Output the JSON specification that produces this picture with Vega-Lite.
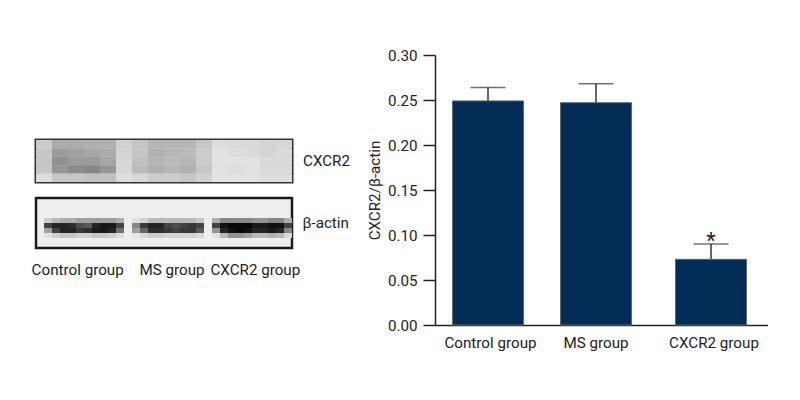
{"$schema":"https://vega.github.io/schema/vega-lite/v6.json","background":"white","padding":{"left":31,"top":48,"right":0,"bottom":0},"spacing":15,
"config":{"font":"Roboto","view":{"stroke":null}},
"datasets":{
"groups":[{"group":"Control group","ratio":0.249,"upper":0.264},{"group":"MS group","ratio":0.247,"upper":0.268},{"group":"CXCR2 group","ratio":0.073,"upper":0.09,"note":"*"}],
"cxcr2":[
{"c":0,"r":0,"d":0.18},{"c":0,"r":1,"d":0.2},{"c":0,"r":2,"d":0.2},{"c":0,"r":3,"d":0.2},{"c":0,"r":4,"d":0.12},
{"c":1,"r":0,"d":0.3},{"c":1,"r":1,"d":0.36},{"c":1,"r":2,"d":0.4},{"c":1,"r":3,"d":0.38},{"c":1,"r":4,"d":0.2},
{"c":2,"r":0,"d":0.3},{"c":2,"r":1,"d":0.34},{"c":2,"r":2,"d":0.36},{"c":2,"r":3,"d":0.42},{"c":2,"r":4,"d":0.2},
{"c":3,"r":0,"d":0.28},{"c":3,"r":1,"d":0.32},{"c":3,"r":2,"d":0.36},{"c":3,"r":3,"d":0.44},{"c":3,"r":4,"d":0.22},
{"c":4,"r":0,"d":0.28},{"c":4,"r":1,"d":0.3},{"c":4,"r":2,"d":0.32},{"c":4,"r":3,"d":0.38},{"c":4,"r":4,"d":0.22},
{"c":5,"r":0,"d":0.16},{"c":5,"r":1,"d":0.15},{"c":5,"r":2,"d":0.14},{"c":5,"r":3,"d":0.14},{"c":5,"r":4,"d":0.12},
{"c":6,"r":0,"d":0.2},{"c":6,"r":1,"d":0.2},{"c":6,"r":2,"d":0.22},{"c":6,"r":3,"d":0.24},{"c":6,"r":4,"d":0.14},
{"c":7,"r":0,"d":0.26},{"c":7,"r":1,"d":0.28},{"c":7,"r":2,"d":0.26},{"c":7,"r":3,"d":0.28},{"c":7,"r":4,"d":0.18},
{"c":8,"r":0,"d":0.26},{"c":8,"r":1,"d":0.26},{"c":8,"r":2,"d":0.24},{"c":8,"r":3,"d":0.26},{"c":8,"r":4,"d":0.18},
{"c":9,"r":0,"d":0.26},{"c":9,"r":1,"d":0.24},{"c":9,"r":2,"d":0.26},{"c":9,"r":3,"d":0.28},{"c":9,"r":4,"d":0.2},
{"c":10,"r":0,"d":0.2},{"c":10,"r":1,"d":0.18},{"c":10,"r":2,"d":0.18},{"c":10,"r":3,"d":0.2},{"c":10,"r":4,"d":0.16},
{"c":11,"r":0,"d":0.12},{"c":11,"r":1,"d":0.1},{"c":11,"r":2,"d":0.1},{"c":11,"r":3,"d":0.1},{"c":11,"r":4,"d":0.1},
{"c":12,"r":0,"d":0.13},{"c":12,"r":1,"d":0.12},{"c":12,"r":2,"d":0.1},{"c":12,"r":3,"d":0.12},{"c":12,"r":4,"d":0.1},
{"c":13,"r":0,"d":0.13},{"c":13,"r":1,"d":0.13},{"c":13,"r":2,"d":0.1},{"c":13,"r":3,"d":0.1},{"c":13,"r":4,"d":0.1},
{"c":14,"r":0,"d":0.15},{"c":14,"r":1,"d":0.15},{"c":14,"r":2,"d":0.13},{"c":14,"r":3,"d":0.13},{"c":14,"r":4,"d":0.12},
{"c":15,"r":0,"d":0.14},{"c":15,"r":1,"d":0.13},{"c":15,"r":2,"d":0.13},{"c":15,"r":3,"d":0.13},{"c":15,"r":4,"d":0.12}],
"actin":[
{"c":1,"r":4,"d":0.12},{"c":1,"r":5,"d":0.7},{"c":1,"r":6,"d":0.3},{"c":1,"r":7,"d":0.05},
{"c":2,"r":4,"d":0.2},{"c":2,"r":5,"d":0.85},{"c":2,"r":6,"d":0.7},{"c":2,"r":7,"d":0.12},
{"c":3,"r":4,"d":0.25},{"c":3,"r":5,"d":0.85},{"c":3,"r":6,"d":0.85},{"c":3,"r":7,"d":0.15},
{"c":4,"r":4,"d":0.25},{"c":4,"r":5,"d":0.8},{"c":4,"r":6,"d":0.85},{"c":4,"r":7,"d":0.15},
{"c":5,"r":4,"d":0.3},{"c":5,"r":5,"d":0.65},{"c":5,"r":6,"d":0.75},{"c":5,"r":7,"d":0.12},
{"c":6,"r":4,"d":0.3},{"c":6,"r":5,"d":0.6},{"c":6,"r":6,"d":0.8},{"c":6,"r":7,"d":0.12},
{"c":7,"r":4,"d":0.3},{"c":7,"r":5,"d":0.85},{"c":7,"r":6,"d":0.9},{"c":7,"r":7,"d":0.15},
{"c":8,"r":4,"d":0.3},{"c":8,"r":5,"d":0.92},{"c":8,"r":6,"d":0.92},{"c":8,"r":7,"d":0.15},
{"c":9,"r":4,"d":0.3},{"c":9,"r":5,"d":0.92},{"c":9,"r":6,"d":0.85},{"c":9,"r":7,"d":0.12},
{"c":10,"r":4,"d":0.25},{"c":10,"r":5,"d":0.7},{"c":10,"r":6,"d":0.5},{"c":10,"r":7,"d":0.06},
{"c":12,"r":4,"d":0.05},{"c":12,"r":5,"d":0.4},{"c":12,"r":6,"d":0.3},{"c":12,"r":7,"d":0.03},
{"c":13,"r":4,"d":0.1},{"c":13,"r":5,"d":0.75},{"c":13,"r":6,"d":0.55},{"c":13,"r":7,"d":0.08},
{"c":14,"r":4,"d":0.2},{"c":14,"r":5,"d":0.85},{"c":14,"r":6,"d":0.8},{"c":14,"r":7,"d":0.12},
{"c":15,"r":4,"d":0.2},{"c":15,"r":5,"d":0.85},{"c":15,"r":6,"d":0.8},{"c":15,"r":7,"d":0.12},
{"c":16,"r":4,"d":0.2},{"c":16,"r":5,"d":0.7},{"c":16,"r":6,"d":0.75},{"c":16,"r":7,"d":0.1},
{"c":17,"r":4,"d":0.2},{"c":17,"r":5,"d":0.65},{"c":17,"r":6,"d":0.7},{"c":17,"r":7,"d":0.1},
{"c":18,"r":4,"d":0.2},{"c":18,"r":5,"d":0.7},{"c":18,"r":6,"d":0.75},{"c":18,"r":7,"d":0.1},
{"c":19,"r":4,"d":0.2},{"c":19,"r":5,"d":0.75},{"c":19,"r":6,"d":0.75},{"c":19,"r":7,"d":0.1},
{"c":20,"r":4,"d":0.15},{"c":20,"r":5,"d":0.7},{"c":20,"r":6,"d":0.6},{"c":20,"r":7,"d":0.08},
{"c":22,"r":4,"d":0.25},{"c":22,"r":5,"d":0.7},{"c":22,"r":6,"d":0.35},{"c":22,"r":7,"d":0.05},
{"c":23,"r":4,"d":0.4},{"c":23,"r":5,"d":0.95},{"c":23,"r":6,"d":0.85},{"c":23,"r":7,"d":0.2},
{"c":24,"r":4,"d":0.4},{"c":24,"r":5,"d":0.98},{"c":24,"r":6,"d":0.95},{"c":24,"r":7,"d":0.35},
{"c":25,"r":4,"d":0.4},{"c":25,"r":5,"d":0.98},{"c":25,"r":6,"d":0.98},{"c":25,"r":7,"d":0.35},
{"c":26,"r":4,"d":0.4},{"c":26,"r":5,"d":0.98},{"c":26,"r":6,"d":0.95},{"c":26,"r":7,"d":0.3},
{"c":27,"r":4,"d":0.35},{"c":27,"r":5,"d":0.9},{"c":27,"r":6,"d":0.85},{"c":27,"r":7,"d":0.2},
{"c":28,"r":4,"d":0.35},{"c":28,"r":5,"d":0.9},{"c":28,"r":6,"d":0.85},{"c":28,"r":7,"d":0.2},
{"c":29,"r":4,"d":0.4},{"c":29,"r":5,"d":0.95},{"c":29,"r":6,"d":0.92},{"c":29,"r":7,"d":0.25},
{"c":30,"r":4,"d":0.4},{"c":30,"r":5,"d":0.95},{"c":30,"r":6,"d":0.85},{"c":30,"r":7,"d":0.2},
{"c":31,"r":4,"d":0.25},{"c":31,"r":5,"d":0.7},{"c":31,"r":6,"d":0.4},{"c":31,"r":7,"d":0.08}]
},
"hconcat":[
{"spacing":12,"vconcat":[
{"width":256,"height":71,"data":{"name":"groups"},"mark":{"type":"point","opacity":0},"encoding":{}},
{"width":256,"height":42,"view":{"stroke":"#333","strokeWidth":3,"fill":"#dddddd"},
"title":{"text":"CXCR2","orient":"right","angle":0,"align":"left","baseline":"middle","anchor":"middle","offset":-36,"fontSize":15.2,"fontWeight":"normal","color":"#222"},
"data":{"name":"cxcr2"},"mark":{"type":"rect"},
"encoding":{"x":{"field":"c","type":"ordinal","axis":null},"y":{"field":"r","type":"ordinal","axis":null},
"color":{"field":"d","type":"quantitative","legend":null,"scale":{"domain":[0,1],"range":["#ffffff","#000000"]}}}},
{"width":256,"height":50,"view":{"stroke":"#1a1a1a","strokeWidth":2.5,"fill":"#eeeeee"},
"title":{"text":"β-actin","orient":"right","angle":0,"align":"left","baseline":"middle","anchor":"middle","offset":-36,"fontSize":15.2,"fontWeight":"normal","color":"#222"},
"data":{"name":"actin"},"mark":{"type":"rect"},
"encoding":{"x":{"field":"c","type":"ordinal","axis":null,"scale":{"domain":[0,1,2,3,4,5,6,7,8,9,10,11,12,13,14,15,16,17,18,19,20,21,22,23,24,25,26,27,28,29,30,31]}},"y":{"field":"r","type":"ordinal","axis":null,"scale":{"domain":[0,1,2,3,4,5,6,7,8,9]}},
"color":{"field":"d","type":"quantitative","legend":null,"scale":{"domain":[0,1],"range":["#eeeeee","#000000"]}}}},
{"width":256,"height":1,"data":{"name":"groups"},"mark":{"type":"tick","opacity":0},
"encoding":{"x":{"field":"group","type":"nominal","sort":null,"axis":{"title":null,"domain":false,"ticks":false,"labelAngle":0,"labelFontSize":15.2,"labelColor":"#222","labelPadding":-10,"labelOffset":{"expr":"datum.value=='Control group'?-1:datum.value=='MS group'?8:6"}}}}}
],"resolve":{"scale":{"color":"independent"}}},
{"width":333,"height":270,"data":{"name":"groups"},
"encoding":{"x":{"field":"group","type":"nominal","sort":null,
"axis":{"title":null,"ticks":false,"labelAngle":0,"labelFontSize":15.2,"labelColor":"#222","labelPadding":10,"domainColor":"#222","domainWidth":1.5,"labelOffset":{"expr":"datum.value=='Control group'?0:datum.value=='MS group'?-5.5:1.5"}}}},
"layer":[
{"mark":{"type":"rule","stroke":"#333","strokeWidth":1.5,"xOffset":{"expr":"datum.group=='Control group'?-2.5:datum.group=='MS group'?-5.5:-1.5"}},
"encoding":{"y":{"field":"ratio","type":"quantitative"},"y2":{"field":"upper"}}},
{"mark":{"type":"tick","orient":"horizontal","size":35,"thickness":1.5,"color":"#333","xOffset":{"expr":"datum.group=='Control group'?-2.5:datum.group=='MS group'?-5.5:-1.5"}},
"encoding":{"y":{"field":"upper","type":"quantitative"}}},
{"mark":{"type":"bar","size":71,"fill":"#032c57","stroke":"#666","strokeWidth":1,"xOffset":{"expr":"datum.group=='Control group'?-2.5:datum.group=='MS group'?-5.5:-1.5"}},
"encoding":{
"y":{"field":"ratio","type":"quantitative","scale":{"domain":[0,0.3]},
"axis":{"title":"CXCR2/β-actin","titleFontSize":15.2,"titleFontWeight":"normal","titleColor":"#222","titlePadding":5,"values":[0,0.05,0.1,0.15,0.2,0.25,0.3],"format":".2f","labelFontSize":15.2,"labelColor":"#222","labelPadding":6,"tickSize":12,"tickWidth":1.5,"tickColor":"#222","domainColor":"#222","domainWidth":1.5,"grid":false}}}},
{"transform":[{"filter":"isValid(datum.note)"}],"mark":{"type":"text","fontSize":22,"color":"#222","baseline":"middle","dy":-3,"xOffset":-1.5},
"encoding":{"y":{"field":"upper","type":"quantitative"},"text":{"field":"note"}}}
]}
]}
